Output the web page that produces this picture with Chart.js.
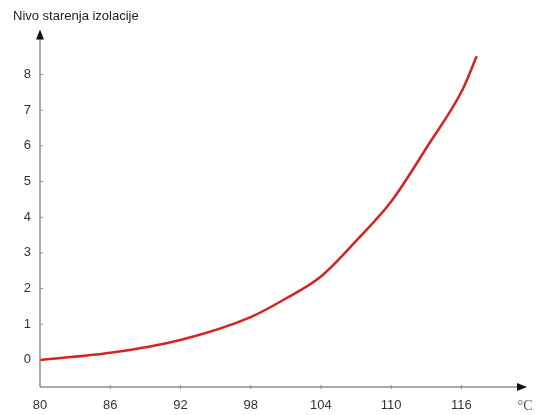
<!DOCTYPE html>
<html>
<head>
<meta charset="utf-8">
<script src="https://cdn.jsdelivr.net/npm/chart.js@4"></script>
<style>
  html, body { margin: 0; padding: 0; background: #fff; }
  #wrap { width: 537px; height: 415px; }
</style>
</head>
<body>
<div id="wrap"><canvas id="c" width="537" height="415"></canvas></div>
<script>
// Data
const temperatures = [80, 86, 92, 98, 101, 104, 107.1, 110, 113.1, 116.1, 117.3];
const agingLevel   = [0, 0.2, 0.56, 1.2, 1.72, 2.34, 3.37, 4.44, 5.99, 7.58, 8.51];
const xTickValues  = [80, 86, 92, 98, 104, 110, 116];
const yTickValues  = [0, 1, 2, 3, 4, 5, 6, 7, 8];
const titleText    = 'Nivo starenja izolacije';
const unitText     = '°C';

const axisColor = '#8f8f8f';
const labelColor = '#333333';

const arrowPlugin = {
  id: 'arrows',
  afterDraw(chart) {
    const ctx = chart.ctx;
    const x = chart.scales.x, y = chart.scales.y;
    const left = x.left, bottom = y.bottom, right = x.right, top = y.top;
    ctx.save();
    ctx.strokeStyle = axisColor;
    ctx.lineWidth = 1.5;
    ctx.beginPath();
    ctx.moveTo(left, bottom); ctx.lineTo(left, top + 6);
    ctx.moveTo(left, bottom); ctx.lineTo(right - 6, bottom);
    ctx.stroke();
    // inner tick marks
    ctx.lineWidth = 1;
    yTickValues.forEach(v => {
      if (v === 0) return;
      const py = y.getPixelForValue(v);
      ctx.beginPath(); ctx.moveTo(left, py); ctx.lineTo(left + 3, py); ctx.stroke();
    });
    xTickValues.forEach(v => {
      if (v === 80) return;
      const px = x.getPixelForValue(v);
      ctx.beginPath(); ctx.moveTo(px, bottom - 2); ctx.lineTo(px, bottom + 2); ctx.stroke();
    });
    ctx.fillStyle = '#111';
    ctx.beginPath();
    ctx.moveTo(left, top); ctx.lineTo(left - 4, top + 10); ctx.lineTo(left + 4, top + 10); ctx.closePath(); ctx.fill();
    ctx.beginPath();
    ctx.moveTo(right, bottom); ctx.lineTo(right - 10, bottom - 4); ctx.lineTo(right - 10, bottom + 4); ctx.closePath(); ctx.fill();
    // unit label
    ctx.fillStyle = '#555';
    ctx.font = '14px "Liberation Serif"';
    ctx.textAlign = 'center';
    ctx.textBaseline = 'middle';
    ctx.fillText(unitText, right - 2, bottom + 19);
    ctx.restore();
  }
};

new Chart(document.getElementById('c'), {
  type: 'line',
  data: {
    datasets: [{
      data: temperatures.map((t, i) => ({ x: t, y: agingLevel[i] })),
      borderColor: '#d62222',
      borderWidth: 2.5,
      pointRadius: 0,
      cubicInterpolationMode: 'monotone',
      fill: false
    }]
  },
  options: {
    responsive: false,
    animation: false,
    devicePixelRatio: 1,
    layout: { padding: { left: 13, right: 10, top: 0, bottom: 0 } },
    plugins: {
      legend: { display: false },
      tooltip: { enabled: false },
      title: {
        display: true,
        text: titleText,
        align: 'start',
        color: '#222',
        font: { family: '"Liberation Sans", Arial, sans-serif', size: 13, weight: 'normal' },
        padding: { top: 9, bottom: 5 }
      }
    },
    scales: {
      x: {
        type: 'linear',
        min: 80,
        max: 121.6,
        afterBuildTicks: s => { s.ticks = xTickValues.map(v => ({ value: v })); },
        afterFit: s => { s.height = 28; },
        grid: { display: false, drawTicks: false },
        border: { display: false },
        ticks: {
          color: labelColor,
          padding: 11,
          maxRotation: 0,
          font: { family: '"Liberation Sans", Arial, sans-serif', size: 13 }
        }
      },
      y: {
        type: 'linear',
        min: -0.76,
        max: 9.26,
        afterBuildTicks: s => { s.ticks = yTickValues.map(v => ({ value: v })); },
        afterFit: s => { s.width = 27; },
        grid: { display: false, drawTicks: false },
        border: { display: false },
        ticks: {
          color: labelColor,
          padding: 9,
          font: { family: '"Liberation Sans", Arial, sans-serif', size: 13 }
        }
      }
    }
  },
  plugins: [arrowPlugin]
});
</script>
</body>
</html>
